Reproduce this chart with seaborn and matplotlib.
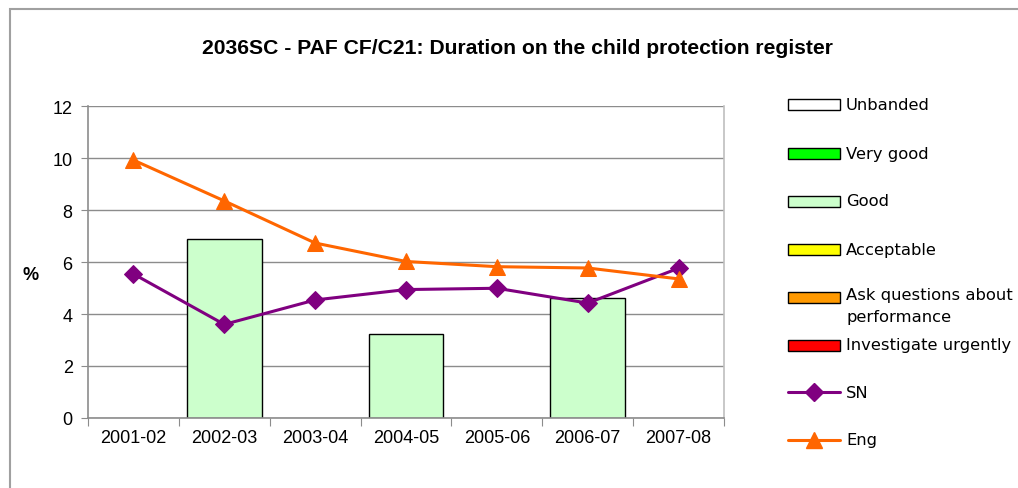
import numpy as np
import pandas as pd
import seaborn as sns
import matplotlib.pyplot as plt
from matplotlib.patches import Rectangle
from matplotlib.lines import Line2D

years = ['2001-02', '2002-03', '2003-04', '2004-05', '2005-06', '2006-07', '2007-08']
good = [np.nan, 6.88, np.nan, 3.22, np.nan, 4.63, np.nan]
sn = [5.54, 3.6, 4.54, 4.94, 4.99, 4.42, 5.76]
eng = [9.92, 8.35, 6.73, 6.02, 5.82, 5.77, 5.35]

band_labels = ['Unbanded', 'Very good', 'Good', 'Acceptable',
               'Ask questions about\nperformance', 'Investigate urgently']
band_colors = ['#FFFFFF', '#00FF00', '#CCFFCC', '#FFFF00', '#FF9900', '#FF0000']

sns.set_style('white')
plt.rcParams['font.family'] = ['Liberation Sans', 'DejaVu Sans']
plt.rcParams['text.color'] = 'black'
plt.rcParams['xtick.color'] = 'black'
plt.rcParams['ytick.color'] = 'black'
plt.rcParams['axes.labelcolor'] = 'black'

fig = plt.figure(figsize=(10.18, 4.89), dpi=100)
ax = fig.add_axes([88 / 1018, 1 - 419 / 489, (724 - 88) / 1018, (419 - 107) / 489])

# outer chart border
fig.add_artist(Rectangle((10 / 1018, -0.1), 1.2, 1 - 10 / 489 + 0.1,
                         transform=fig.transFigure, fill=False,
                         edgecolor='#A0A0A0', linewidth=1.5))

df = pd.DataFrame({'year': years, 'good': good, 'sn': sn, 'eng': eng})
df['pos'] = np.arange(len(years))

sns.barplot(data=df, x='year', y='good', order=years, color='#CCFFCC',
            saturation=1, edgecolor='black', linewidth=1, width=0.82, ax=ax, zorder=2)
sns.lineplot(data=df, x='pos', y='sn', color='#800080', marker='D', markersize=9,
             markeredgecolor='#800080', linewidth=2.2, ax=ax, zorder=3)
sns.lineplot(data=df, x='pos', y='eng', color='#FF6600', marker='^', markersize=12,
             markeredgecolor='#FF6600', linewidth=2.2, ax=ax, zorder=4)

ax.set_xlim(-0.5, len(years) - 0.5)
ax.set_ylim(0, 12)
ax.set_yticks(range(0, 13, 2))
ax.yaxis.grid(True, color='#8C8C8C', linewidth=1)
ax.set_axisbelow(True)

# tick marks between categories, labels centred
ax.set_xticks(np.arange(-0.5, len(years), 1))
ax.set_xticklabels([])
ax.set_xticks(np.arange(len(years)), minor=True)
ax.set_xticklabels(years, minor=True)
ax.tick_params(axis='x', which='major', direction='out', length=6, color='#8C8C8C', bottom=True)
ax.tick_params(axis='x', which='minor', length=0, pad=8, labelsize=13)
ax.tick_params(axis='y', direction='out', length=5, color='#8C8C8C', left=True, labelsize=13, pad=6)

for s in ['left', 'bottom', 'right']:
    ax.spines[s].set_color('#8C8C8C')
    ax.spines[s].set_linewidth(1.2)
ax.spines['right'].set_color('#BFBFBF')
ax.spines['top'].set_visible(False)

ax.set_xlabel('')
ax.set_ylabel('%', rotation=0, fontsize=13, fontweight='bold', va='center', ha='center')
ax.yaxis.set_label_coords((31 - 88) / 636, (419 - 275) / 312)

fig.text(0.508, 1 - 48 / 489, '2036SC - PAF CF/C21: Duration on the child protection register',
         ha='center', va='center', fontsize=15.2, fontweight='bold')

# legend built by hand to mimic the Excel layout
lx0, lx1, tx = 788 / 1018, 840 / 1018, 846 / 1018
ys = [105, 154, 202, 250, 298, 346]
for i, (lab, col) in enumerate(zip(band_labels, band_colors)):
    yc = 1 - ys[i] / 489
    h = 11 / 489
    fig.add_artist(Rectangle((lx0, yc - h / 2), lx1 - lx0, h, transform=fig.transFigure,
                             facecolor=col, edgecolor='black', linewidth=1))
    if '\n' in lab:
        fig.text(tx, yc + 10 / 489, lab, ha='left', va='top', fontsize=11.8,
                 family='DejaVu Sans', linespacing=1.55)
    else:
        fig.text(tx, yc, lab, ha='left', va='center', fontsize=11.8, family='DejaVu Sans')

for yp, lab, col, mk, ms in [(393, 'SN', '#800080', 'D', 9), (441, 'Eng', '#FF6600', '^', 12)]:
    yc = 1 - yp / 489
    fig.add_artist(Line2D([lx0, lx1], [yc, yc], transform=fig.transFigure, color=col,
                          linewidth=2.2))
    fig.add_artist(Line2D([(lx0 + lx1) / 2], [yc], transform=fig.transFigure, color=col,
                          marker=mk, markersize=ms, linestyle=''))
    fig.text(tx, yc, lab, ha='left', va='center', fontsize=11.8, family='DejaVu Sans')

fig.savefig('out.png', dpi=100)
